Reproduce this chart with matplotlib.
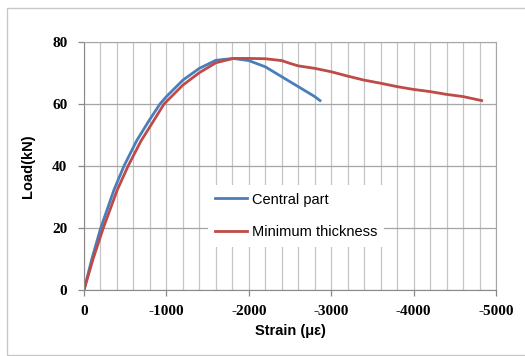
import matplotlib.pyplot as plt
from matplotlib.patches import Rectangle
from matplotlib.ticker import MultipleLocator

plt.rcParams['axes.unicode_minus'] = False

central_strain = [0, -95, -203, -364, -485, -640, -793, -922, -1000, -1200,
                  -1400, -1600, -1812, -2000, -2200, -2400, -2600, -2800, -2864]
central_load = [0, 10, 20, 32.3, 40, 48.2, 54.8, 60, 62.4, 67.7,
                71.5, 74.1, 74.7, 74.0, 72.0, 68.8, 65.6, 62.4, 61.1]

minimum_strain = [0, -110, -234, -404, -535, -690, -850, -971, -1200, -1400,
                  -1600, -1812, -2000, -2200, -2400, -2500, -2600, -2800,
                  -3000, -3200, -3400, -3600, -3800, -4000, -4200, -4400, -4600, -4826]
minimum_load = [0, 10, 20, 32.3, 40, 48.0, 54.8, 60, 66.1, 70.1,
                73.3, 74.7, 74.7, 74.6, 74.0, 73.1, 72.3, 71.5,
                70.4, 69.0, 67.7, 66.7, 65.6, 64.7, 64.0, 63.1, 62.4, 61.1]

fig = plt.figure(figsize=(5.25, 3.56), dpi=100)
fig.patches.append(Rectangle((7 / 525, 1 - 355 / 356), 1.0, 347 / 356,
                             transform=fig.transFigure, fill=False,
                             edgecolor='#c8c8c8', linewidth=1))
ax = fig.add_axes([84 / 525, 1 - 290 / 356, 412 / 525, 248 / 356])

ax.plot(central_strain, central_load, color='#4a7ebb', linewidth=2,
        solid_joinstyle='round', label='Central part')
ax.plot(minimum_strain, minimum_load, color='#be4b48', linewidth=2,
        solid_joinstyle='round', label='Minimum thickness')

ax.set_xlim(0, -5000)
ax.set_ylim(0, 80)
ax.xaxis.set_major_locator(MultipleLocator(1000))
ax.xaxis.set_minor_locator(MultipleLocator(200))
ax.yaxis.set_major_locator(MultipleLocator(20))
ax.grid(True, which='major', axis='y', color='#a6a6a6', linewidth=0.9)
ax.grid(True, which='both', axis='x', color='#c4c4c4', linewidth=0.9)
ax.set_axisbelow(True)
ax.tick_params(which='major', length=4, color='#888888', width=0.9)
ax.tick_params(which='minor', length=0)
for sp in ax.spines.values():
    sp.set_color('#a6a6a6')
ax.spines['left'].set_color('#888888')
ax.spines['bottom'].set_color('#888888')

for lab in ax.get_xticklabels() + ax.get_yticklabels():
    lab.set_fontfamily('Liberation Serif')
    lab.set_fontweight('bold')
    lab.set_fontsize(11)
ax.tick_params(axis='x', pad=7)
ax.tick_params(axis='y', pad=8)

ax.set_xlabel('Strain (με)', fontfamily='Liberation Sans', fontweight='bold', fontsize=10.5, labelpad=4)
ax.set_ylabel('Load(kN)', fontfamily='Liberation Sans', fontweight='bold', fontsize=10.5, labelpad=12)

leg = ax.legend(loc='center', bbox_to_anchor=(296 / 525, 1 - 216 / 356),
                bbox_transform=fig.transFigure, frameon=True, fancybox=False,
                facecolor='white', edgecolor='none', framealpha=1,
                prop={'family': 'Liberation Sans', 'size': 10.5},
                handlelength=2.2, handletextpad=0.3, labelspacing=1.3,
                borderpad=0.5)

fig.savefig('out.png', dpi=100)
